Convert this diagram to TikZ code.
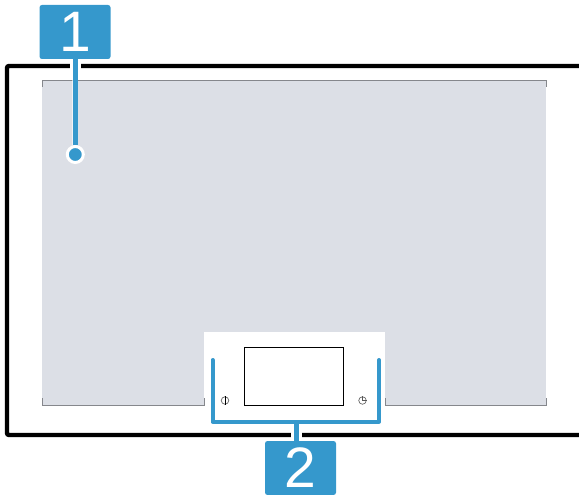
\documentclass[tikz,border=0pt]{standalone}
\usepackage{fontspec}
\setmainfont{Liberation Sans}
\definecolor{callout}{HTML}{3598CC}
\definecolor{panel}{HTML}{DCDFE6}
\definecolor{tick}{HTML}{85878C}
\tikzset{
  px/.style={x=1pt,y=-1pt},
  calloutbox/.style={fill=callout,rounded corners=2.5pt,minimum width=71pt,minimum height=54pt,inner sep=0pt,text=white,font=\fontsize{57}{57}\selectfont},
  leader/.style={draw=callout,line width=4pt},
  stem/.style={draw=callout,line width=5pt},
  halo/.style={draw=white,line width=11pt},
  softhalo/.style={draw=white,line width=6pt,opacity=0.6},
  edgetick/.style={draw=tick,line width=1pt},
  iconring/.style={draw=black!60,circle,line width=0.7pt,minimum size=7.5pt,inner sep=0pt}
}
\begin{document}
\begin{tikzpicture}[px]
\useasboundingbox (0,0) rectangle (579,495);
% panel
\fill[panel] (41.5,80) rectangle (546,405);
\draw[edgetick] (42,87) -- (42,80.5) -- (546,80.5) -- (546,87);
\fill[white] (204,332) rectangle (385,410);
\draw[edgetick] (42,398) -- (42,405) -- (204,405) -- (204,398);
\draw[edgetick] (385,398) -- (385,405) -- (546,405) -- (546,398);
% frame
\draw[black,line width=4.4pt,rounded corners=2pt] (579,66) -- (7,66) -- (7,435) -- (579,435);
% screen
\node[draw=black,line width=1pt,fill=white,minimum width=99pt,minimum height=58pt,inner sep=0pt] (screen) at (293.5,376) {};
% icons
\node[iconring] (power) at (225,400.5) {};
\draw[black,line width=1pt] (power.north) -- (power.south);
\node[iconring] (clock) at (362.5,400.5) {};
\draw[draw=black!65,line width=0.6pt] (clock.north) -- (clock.center) -- (clock.east);
% callouts
\node[calloutbox] (labelone) at (75,32) {\raisebox{-1pt}{1}};
\node[calloutbox] (labeltwo) at (300.5,468) {\raisebox{-1pt}{2}};
\node[circle,fill=callout,draw=white,line width=3pt,minimum size=16pt,inner sep=0pt] (dotone) at (75.3,154.5) {};
\coordinate (bracketmid) at (296,421.5);
\coordinate (bracketleft) at (212.5,360);
\coordinate (bracketright) at (379,360);
% halos across the frame
\draw[halo] (labelone.south -| dotone) -- ++(0,12);
\draw[softhalo] (labelone.south -| dotone) -- (dotone.north);
\draw[halo] (bracketmid) ++(0,5) -- (labeltwo.north -| bracketmid);
% leaders
\draw[stem] (labelone.south -| dotone) -- (dotone.north);
\draw[leader,line cap=round,line join=round] (bracketleft) -- (bracketleft |- bracketmid) -- (bracketright |- bracketmid) -- (bracketright);
\draw[stem] (bracketmid) -- (labeltwo.north -| bracketmid);
\end{tikzpicture}
\end{document}
